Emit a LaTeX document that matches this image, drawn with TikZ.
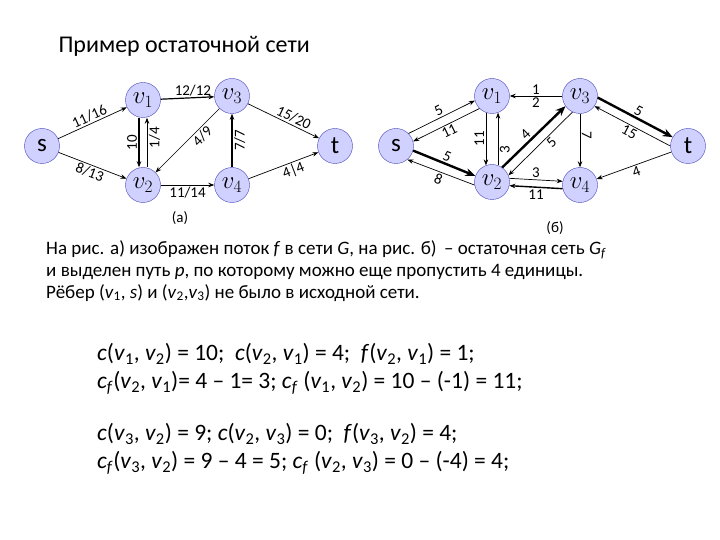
\documentclass[tikz,border=0pt]{standalone}
\usepackage{fontspec}
\setmainfont{Carlito}
\usetikzlibrary{arrows.meta}
\newcommand{\vv}[1]{\textit{v}\textsubscript{#1}}
\begin{document}
\begin{tikzpicture}[x=1pt,y=-1pt,
  vx/.style={circle,draw=blue!45!gray,fill=blue!18,minimum size=35pt,inner sep=0pt,font=\fontsize{25}{25}\selectfont},
  ed/.style={-{Stealth[length=6pt]},line width=0.7pt},
  th/.style={-{Stealth[length=10pt,width=8pt]},line width=2.4pt},
  lb/.style={font=\fontsize{15}{15}\selectfont,inner sep=1.5pt},
  tx/.style={font=\fontsize{19}{22}\selectfont,anchor=north west,align=left,inner sep=0pt},
  fx/.style={font=\fontsize{23.5}{28}\selectfont,anchor=north west,align=left,inner sep=0pt}]
\useasboundingbox (0,0) rectangle (720,540);
\node[font=\fontsize{24}{24}\selectfont,anchor=west] (title) at (55,46) {Пример остаточной сети};
% left graph
\node[vx] (s) at (42,146) {s};
\node[vx] (a1) at (143,100) {$v_1$};
\node[vx] (a3) at (232,96) {$v_3$};
\node[vx] (t) at (335,146) {t};
\node[vx] (a2) at (143,185) {$v_2$};
\node[vx] (a4) at (232,185) {$v_4$};
\draw[ed] (s) -- node[lb,sloped,above]{11/16} (a1);
\draw[ed] (s) -- node[lb,sloped,below]{8/13} (a2);
\draw[ed,line width=1.2pt] (a1) -- node[lb,above,pos=0.6]{12/12} (a3);
\draw[ed,line width=1.2pt] ([xshift=-4pt]a1.south) -- node[lb,rotate=90,anchor=south]{10} ([xshift=-4pt]a2.north);
\draw[ed] ([xshift=4pt]a2.north) -- node[lb,rotate=90,anchor=north,pos=0.6]{1/4} ([xshift=4pt]a1.south);
\draw[ed] (a3) -- node[lb,sloped,below,pos=0.35]{4/9} (a2);
\draw[ed,line width=1.2pt] (a4) -- node[lb,rotate=90,anchor=north]{7/7} (a3);
\draw[ed] (a2) -- node[lb,below]{11/14} (a4);
\draw[ed] (a3) -- node[lb,sloped,above,pos=0.6]{15/20} (t);
\draw[ed] (a4) -- node[lb,sloped,below,pos=0.6]{4|4} (t);
\node[lb] (la) at (180,218) {(a)};
% right graph
\node[vx] (rs) at (396,146) {s};
\node[vx] (b1) at (492,96) {$v_1$};
\node[vx] (b3) at (580,96) {$v_3$};
\node[vx] (rt) at (688,146) {t};
\node[vx] (b2) at (492,182) {$v_2$};
\node[vx] (b4) at (580,185) {$v_4$};
\draw[ed] (rs.45) -- node[lb,sloped,above]{5} (b1.195);
\draw[ed] (b1.225) -- node[lb,sloped,below]{11} (rs.15);
\draw[th] (rs.-15) -- node[lb,sloped,above]{5} (b2.160);
\draw[ed] (b2.190) -- node[lb,sloped,below]{8} (rs.-50);
\draw[ed] (b1.-110) -- node[lb,rotate=90,anchor=south]{11} (b2.110);
\draw[ed] (b2.70) -- node[lb,rotate=90,anchor=north,pos=0.3]{3} (b1.-70);
\draw[th] (b2.55) -- node[lb,sloped,above,pos=0.45]{4} (b3.215);
\draw[ed] (b3.245) -- node[lb,sloped,below,pos=0.4]{5} (b2.22);
\draw[ed] (b3) -- node[lb,above]{1} node[lb,below]{2} (b1);
\draw[ed] (b3) -- node[lb,sloped,above,pos=0.4]{7} (b4);
\draw[th] (b3.-5) -- node[lb,sloped,above]{5} (rt.150);
\draw[ed] (rt.180) -- node[lb,sloped,below]{15} (b3.-35);
\draw[ed] (rt) -- node[lb,sloped,below]{4} (b4);
\draw[ed] (b2.12) -- node[lb,above]{3} (b4.168);
\draw[ed,line width=1.4pt] (b4.192) -- node[lb,below]{11} (b2.-12);
\node[lb] (lb2) at (555,228) {(б)};
% texts
\node[tx] (p) at (46,240) {На рис. а) изображен поток \textit{f} в сети \textit{G}, на рис. б) \,– остаточная сеть \textit{G}\textsubscript{\textit{f}}\\
и выделен путь \textit{p}, по которому можно еще пропустить 4 единицы.\\
Рёбер (\vv{1}, \textit{s}) и (\vv{2},\vv{3}) не было в исходной сети.};
\node[fx] (f1) at (97,343) {\textit{c}(\vv{1}, \vv{2}) = 10; \ \textit{c}(\vv{2}, \vv{1}) = 4; \ \textit{f}(\vv{2}, \vv{1}) = 1;\\
\textit{c}\textsubscript{\textit{f}}(\vv{2}, \vv{1})= 4 – 1= 3; \textit{c}\textsubscript{\textit{f}} (\vv{1}, \vv{2}) = 10 – (-1) = 11;};
\node[fx] (f2) at (97,423) {\textit{c}(\vv{3}, \vv{2}) = 9; \textit{c}(\vv{2}, \vv{3}) = 0; \ \textit{f}(\vv{3}, \vv{2}) = 4;\\
\textit{c}\textsubscript{\textit{f}}(\vv{3}, \vv{2}) = 9 – 4 = 5; \textit{c}\textsubscript{\textit{f}} (\vv{2}, \vv{3}) = 0 – (-4) = 4;};
\end{tikzpicture}
\end{document}
